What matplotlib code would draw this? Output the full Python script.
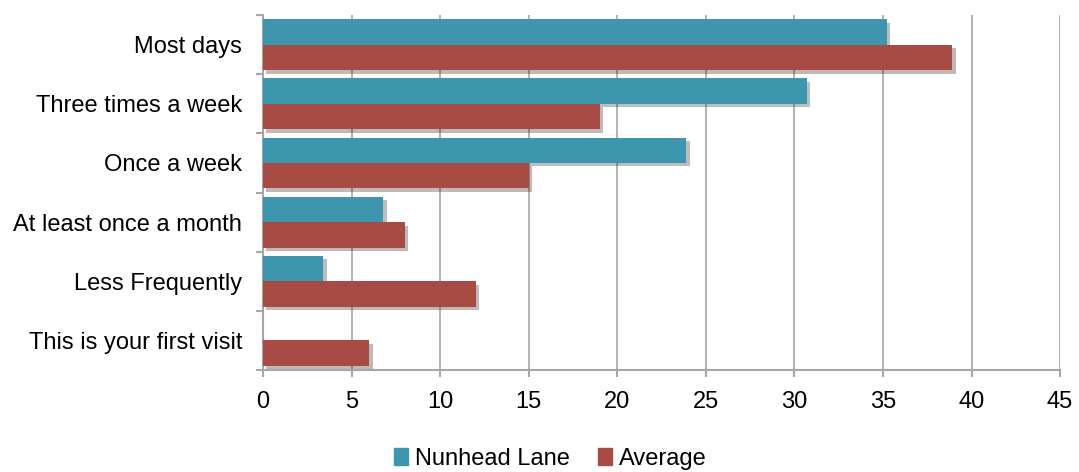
import numpy as np
import matplotlib
matplotlib.use("Agg")
import matplotlib.pyplot as plt
import matplotlib.patheffects as pe
from matplotlib.patches import Patch

plt.rcParams['font.family'] = ['Liberation Sans', 'DejaVu Sans']

categories = ["Most days", "Three times a week", "Once a week",
              "At least once a month", "Less Frequently", "This is your first visit"]
nunhead = [35.2, 30.7, 23.9, 6.8, 3.4, 0]
average = [38.9, 19.0, 15.0, 8.0, 12.0, 6.0]
xticks = [0, 5, 10, 15, 20, 25, 30, 35, 40, 45]

teal = "#3D96AD"
red = "#A84B45"
grey = "#A6A6A6"

fig = plt.figure(figsize=(10.79, 4.72), dpi=100)
ax = fig.add_axes([0.2437, 0.216, 0.7388, 0.752])

y = np.arange(len(categories))
h = 0.43
shadow = [pe.SimplePatchShadow(offset=(2.5, -2.5), alpha=0.3, rho=0.3), pe.Normal()]
ax.barh(y - h / 2, nunhead, height=h, color=teal, path_effects=shadow, zorder=3)
ax.barh(y + h / 2, average, height=h, color=red, path_effects=shadow, zorder=3)

ax.set_ylim(len(categories) - 0.5, -0.5)
ax.set_xlim(0, 45)
ax.set_xticks(xticks)
ax.set_yticks(y)
ax.set_yticklabels(categories, fontsize=17)
ax.tick_params(axis='x', labelsize=17, length=5, color=grey, width=1.5, pad=10)
ax.tick_params(axis='y', length=0, pad=15)
ax.set_yticks(np.arange(len(categories) + 1) - 0.5, minor=True)
ax.tick_params(axis='y', which='minor', length=5, color=grey, width=1.5)

ax.grid(axis='x', color=grey, linewidth=1.2, zorder=0)
for s in ["top", "right"]:
    ax.spines[s].set_visible(False)
for s in ["left", "bottom"]:
    ax.spines[s].set_color(grey)
    ax.spines[s].set_linewidth(1.5)

handles = [Patch(color=teal, label="Nunhead Lane"), Patch(color=red, label="Average")]
fig.legend(handles=handles, loc="lower center", bbox_to_anchor=(0.51, -0.04), ncol=2,
           frameon=False, fontsize=17, handlelength=0.6, handleheight=0.75,
           handletextpad=0.3, columnspacing=1.2)

fig.savefig("out.png", dpi=100)
